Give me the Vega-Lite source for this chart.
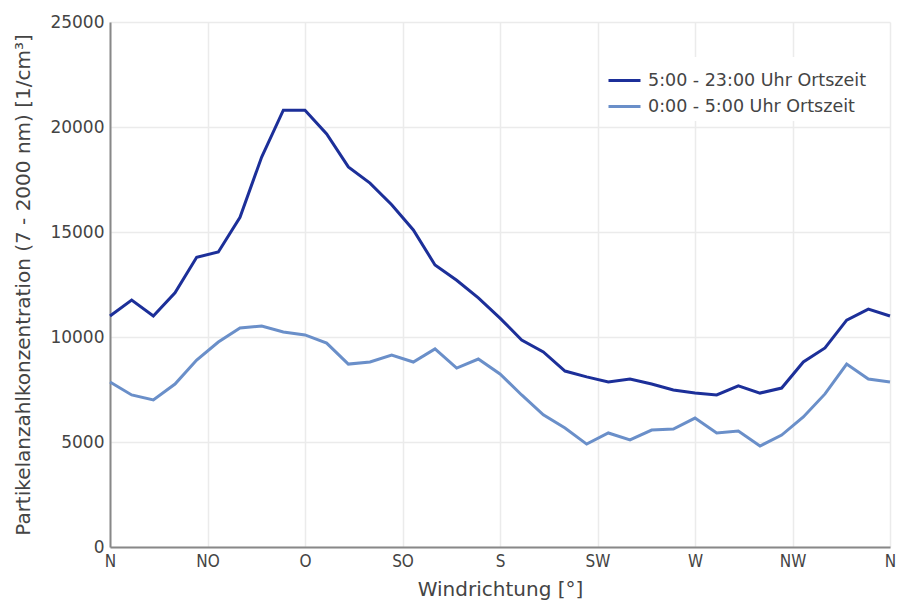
{
  "$schema": "https://vega.github.io/schema/vega-lite/v6.json",
  "width": 780,
  "height": 525,
  "autosize": {"type": "none"},
  "padding": {"left": 110, "top": 22, "right": 8, "bottom": 53},
  "background": "white",
  "config": {
    "font": "DejaVu Sans",
    "view": {"stroke": null},
    "axis": {
      "labelFont": "DejaVu Sans",
      "titleFont": "DejaVu Sans",
      "labelColor": "#444444",
      "titleColor": "#444444",
      "titleFontWeight": "normal",
      "gridColor": "#ebebeb",
      "gridWidth": 1.5,
      "domainColor": "#888888",
      "domainWidth": 2,
      "ticks": false
    }
  },
  "data": {
    "values": [
      {"deg": 0, "series": "5:00 - 23:00 Uhr Ortszeit", "value": 11000},
      {"deg": 10, "series": "5:00 - 23:00 Uhr Ortszeit", "value": 11760},
      {"deg": 20, "series": "5:00 - 23:00 Uhr Ortszeit", "value": 11000},
      {"deg": 30, "series": "5:00 - 23:00 Uhr Ortszeit", "value": 12100},
      {"deg": 40, "series": "5:00 - 23:00 Uhr Ortszeit", "value": 13800},
      {"deg": 50, "series": "5:00 - 23:00 Uhr Ortszeit", "value": 14050},
      {"deg": 60, "series": "5:00 - 23:00 Uhr Ortszeit", "value": 15700},
      {"deg": 70, "series": "5:00 - 23:00 Uhr Ortszeit", "value": 18570},
      {"deg": 80, "series": "5:00 - 23:00 Uhr Ortszeit", "value": 20800},
      {"deg": 90, "series": "5:00 - 23:00 Uhr Ortszeit", "value": 20800},
      {"deg": 100, "series": "5:00 - 23:00 Uhr Ortszeit", "value": 19670},
      {"deg": 110, "series": "5:00 - 23:00 Uhr Ortszeit", "value": 18100},
      {"deg": 120, "series": "5:00 - 23:00 Uhr Ortszeit", "value": 17330},
      {"deg": 130, "series": "5:00 - 23:00 Uhr Ortszeit", "value": 16300},
      {"deg": 140, "series": "5:00 - 23:00 Uhr Ortszeit", "value": 15100},
      {"deg": 150, "series": "5:00 - 23:00 Uhr Ortszeit", "value": 13430},
      {"deg": 160, "series": "5:00 - 23:00 Uhr Ortszeit", "value": 12700},
      {"deg": 170, "series": "5:00 - 23:00 Uhr Ortszeit", "value": 11860},
      {"deg": 180, "series": "5:00 - 23:00 Uhr Ortszeit", "value": 10900},
      {"deg": 190, "series": "5:00 - 23:00 Uhr Ortszeit", "value": 9860},
      {"deg": 200, "series": "5:00 - 23:00 Uhr Ortszeit", "value": 9290},
      {"deg": 210, "series": "5:00 - 23:00 Uhr Ortszeit", "value": 8380},
      {"deg": 220, "series": "5:00 - 23:00 Uhr Ortszeit", "value": 8100},
      {"deg": 230, "series": "5:00 - 23:00 Uhr Ortszeit", "value": 7860},
      {"deg": 240, "series": "5:00 - 23:00 Uhr Ortszeit", "value": 8000},
      {"deg": 250, "series": "5:00 - 23:00 Uhr Ortszeit", "value": 7760},
      {"deg": 260, "series": "5:00 - 23:00 Uhr Ortszeit", "value": 7480},
      {"deg": 270, "series": "5:00 - 23:00 Uhr Ortszeit", "value": 7330},
      {"deg": 280, "series": "5:00 - 23:00 Uhr Ortszeit", "value": 7240},
      {"deg": 290, "series": "5:00 - 23:00 Uhr Ortszeit", "value": 7670},
      {"deg": 300, "series": "5:00 - 23:00 Uhr Ortszeit", "value": 7330},
      {"deg": 310, "series": "5:00 - 23:00 Uhr Ortszeit", "value": 7570},
      {"deg": 320, "series": "5:00 - 23:00 Uhr Ortszeit", "value": 8810},
      {"deg": 330, "series": "5:00 - 23:00 Uhr Ortszeit", "value": 9480},
      {"deg": 340, "series": "5:00 - 23:00 Uhr Ortszeit", "value": 10800},
      {"deg": 350, "series": "5:00 - 23:00 Uhr Ortszeit", "value": 11330},
      {"deg": 360, "series": "5:00 - 23:00 Uhr Ortszeit", "value": 11000},
      {"deg": 0, "series": "0:00 - 5:00 Uhr Ortszeit", "value": 7860},
      {"deg": 10, "series": "0:00 - 5:00 Uhr Ortszeit", "value": 7240},
      {"deg": 20, "series": "0:00 - 5:00 Uhr Ortszeit", "value": 7000},
      {"deg": 30, "series": "0:00 - 5:00 Uhr Ortszeit", "value": 7760},
      {"deg": 40, "series": "0:00 - 5:00 Uhr Ortszeit", "value": 8900},
      {"deg": 50, "series": "0:00 - 5:00 Uhr Ortszeit", "value": 9760},
      {"deg": 60, "series": "0:00 - 5:00 Uhr Ortszeit", "value": 10430},
      {"deg": 70, "series": "0:00 - 5:00 Uhr Ortszeit", "value": 10520},
      {"deg": 80, "series": "0:00 - 5:00 Uhr Ortszeit", "value": 10240},
      {"deg": 90, "series": "0:00 - 5:00 Uhr Ortszeit", "value": 10100},
      {"deg": 100, "series": "0:00 - 5:00 Uhr Ortszeit", "value": 9710},
      {"deg": 110, "series": "0:00 - 5:00 Uhr Ortszeit", "value": 8710},
      {"deg": 120, "series": "0:00 - 5:00 Uhr Ortszeit", "value": 8810},
      {"deg": 130, "series": "0:00 - 5:00 Uhr Ortszeit", "value": 9140},
      {"deg": 140, "series": "0:00 - 5:00 Uhr Ortszeit", "value": 8810},
      {"deg": 150, "series": "0:00 - 5:00 Uhr Ortszeit", "value": 9430},
      {"deg": 160, "series": "0:00 - 5:00 Uhr Ortszeit", "value": 8520},
      {"deg": 170, "series": "0:00 - 5:00 Uhr Ortszeit", "value": 8950},
      {"deg": 180, "series": "0:00 - 5:00 Uhr Ortszeit", "value": 8240},
      {"deg": 190, "series": "0:00 - 5:00 Uhr Ortszeit", "value": 7240},
      {"deg": 200, "series": "0:00 - 5:00 Uhr Ortszeit", "value": 6290},
      {"deg": 210, "series": "0:00 - 5:00 Uhr Ortszeit", "value": 5670},
      {"deg": 220, "series": "0:00 - 5:00 Uhr Ortszeit", "value": 4900},
      {"deg": 230, "series": "0:00 - 5:00 Uhr Ortszeit", "value": 5430},
      {"deg": 240, "series": "0:00 - 5:00 Uhr Ortszeit", "value": 5100},
      {"deg": 250, "series": "0:00 - 5:00 Uhr Ortszeit", "value": 5570},
      {"deg": 260, "series": "0:00 - 5:00 Uhr Ortszeit", "value": 5620},
      {"deg": 270, "series": "0:00 - 5:00 Uhr Ortszeit", "value": 6140},
      {"deg": 280, "series": "0:00 - 5:00 Uhr Ortszeit", "value": 5430},
      {"deg": 290, "series": "0:00 - 5:00 Uhr Ortszeit", "value": 5520},
      {"deg": 300, "series": "0:00 - 5:00 Uhr Ortszeit", "value": 4810},
      {"deg": 310, "series": "0:00 - 5:00 Uhr Ortszeit", "value": 5330},
      {"deg": 320, "series": "0:00 - 5:00 Uhr Ortszeit", "value": 6190},
      {"deg": 330, "series": "0:00 - 5:00 Uhr Ortszeit", "value": 7290},
      {"deg": 340, "series": "0:00 - 5:00 Uhr Ortszeit", "value": 8710},
      {"deg": 350, "series": "0:00 - 5:00 Uhr Ortszeit", "value": 8000},
      {"deg": 360, "series": "0:00 - 5:00 Uhr Ortszeit", "value": 7860}
    ]
  },
  "mark": {"type": "line", "strokeWidth": 3, "interpolate": "linear"},
  "encoding": {
    "x": {
      "field": "deg",
      "type": "quantitative",
      "scale": {"domain": [0, 360], "nice": false},
      "axis": {
        "title": "Windrichtung [°]",
        "titleFontSize": 20,
        "titlePadding": 10,
        "labelFont": "DejaVu Sans Condensed",
        "labelFontSize": 17,
        "labelPadding": 6,
        "values": [0, 45, 90, 135, 180, 225, 270, 315, 360],
        "labelExpr": "['N','NO','O','SO','S','SW','W','NW','N'][round(datum.value/45)]",
        "labelFlush": false
      }
    },
    "y": {
      "field": "value",
      "type": "quantitative",
      "scale": {"domain": [0, 25000], "nice": false},
      "axis": {
        "title": "Partikelanzahlkonzentration (7 - 2000 nm) [1/cm³]",
        "titleFontSize": 20,
        "titlePadding": 16,
        "labelFontSize": 17,
        "labelPadding": 6,
        "values": [0, 5000, 10000, 15000, 20000, 25000],
        "format": "d"
      }
    },
    "color": {
      "field": "series",
      "type": "nominal",
      "sort": ["5:00 - 23:00 Uhr Ortszeit", "0:00 - 5:00 Uhr Ortszeit"],
      "scale": {
        "domain": ["5:00 - 23:00 Uhr Ortszeit", "0:00 - 5:00 Uhr Ortszeit"],
        "range": ["#1c2f99", "#6a8fc9"]
      },
      "legend": {
        "title": null,
        "orient": "none",
        "legendX": 491,
        "legendY": 35,
        "symbolType": "stroke",
        "symbolStrokeWidth": 3,
        "symbolSize": 1024,
        "labelFontSize": 17.5,
        "labelLimit": 400,
        "labelColor": "#444444",
        "labelFont": "DejaVu Sans",
        "labelOffset": 6,
        "rowPadding": -13,
        "padding": 6,
        "fillColor": "white"
      }
    }
  }
}
